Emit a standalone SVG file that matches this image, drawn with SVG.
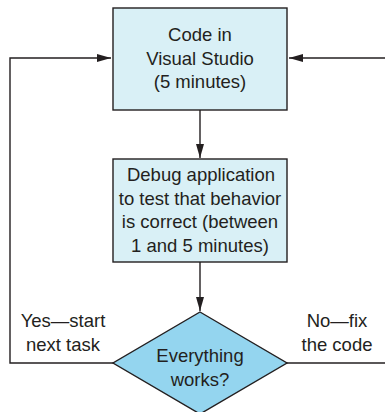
<svg xmlns="http://www.w3.org/2000/svg" width="385" height="412" viewBox="0 0 385 412">
<defs>
<marker id="arr" viewBox="0 0 14 8" refX="14" refY="4" markerWidth="14" markerHeight="8" markerUnits="userSpaceOnUse" orient="auto">
<path d="M0,0 L14,4 L0,8 Z" fill="#231f20"/>
</marker>
</defs>
<style>
.box{fill:#d9f0f6;stroke:#231f20;stroke-width:1.4}
.dia{fill:#94d5ef;stroke:#231f20;stroke-width:1.4}
.ln{fill:none;stroke:#231f20;stroke-width:1.4}
text{font-family:"Liberation Sans",Arial,sans-serif;font-size:18.5px;fill:#231f20;text-anchor:middle}
</style>
<rect width="385" height="412" fill="#ffffff"/>
<g id="connectors">
<line class="ln" x1="200" y1="110" x2="200" y2="158" marker-end="url(#arr)"/>
<line class="ln" x1="200" y1="262" x2="200" y2="311" marker-end="url(#arr)"/>
<polyline class="ln" points="113,363 10,363 10,58 111,58" marker-end="url(#arr)"/>
<polyline class="ln" points="287,363 386,363"/>
<polyline class="ln" points="386,58 289,58" marker-end="url(#arr)"/>
<text x="63" y="327">Yes—start</text>
<text x="63" y="351">next task</text>
<text x="337" y="327">No—fix</text>
<text x="337" y="351">the code</text>
</g>
<g id="code">
<rect class="box" x="113" y="8" width="174" height="102"/>
<text x="200" y="41">Code in</text>
<text x="200" y="65">Visual Studio</text>
<text x="200" y="88">(5 minutes)</text>
</g>
<g id="debug">
<rect class="box" x="113" y="159" width="174" height="103"/>
<text x="201" y="181">Debug application</text>
<text x="200" y="205">to test that behavior</text>
<text x="200" y="228">is correct (between</text>
<text x="200" y="252">1 and 5 minutes)</text>
</g>
<g id="decision">
<polygon class="dia" points="200,312 287,363 200,414 113,363"/>
<text x="200" y="362">Everything</text>
<text x="200" y="386">works?</text>
</g>
</svg>
